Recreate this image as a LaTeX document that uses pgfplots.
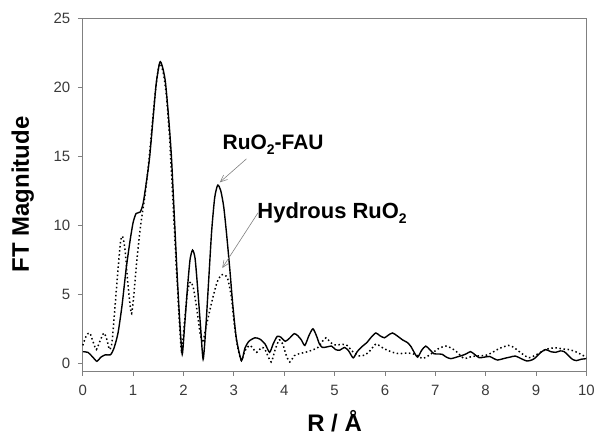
\documentclass[border=0pt]{standalone}
\usepackage{pgfplots}
\pgfplotsset{compat=1.18}
\usepackage{fontspec}
\setmainfont{Liberation Sans}
\usetikzlibrary{arrows.meta}
\definecolor{axgray}{HTML}{808080}
\definecolor{lblgray}{HTML}{3A3A3A}
\newcommand{\sub}[1]{\raisebox{-0.45ex}{\fontsize{14}{14}\selectfont #1}}
\begin{document}
\begin{tikzpicture}
\begin{axis}[
  name=ax,
  width=505pt, height=354pt, scale only axis,
  xmin=0, xmax=10, ymin=-0.55, ymax=25,
  xtick={0,1,...,10}, ytick={0,5,...,25},
  xtick pos=left, ytick pos=left,
  tick align=outside, major tick length=5pt,
  axis line style={axgray, line width=0.8pt},
  every tick/.style={axgray, line width=0.8pt},
  /pgf/number format/assume math mode=true,
  tick label style={font=\fontsize{15}{15}\selectfont, text=lblgray},
  xticklabel style={yshift=-6pt},
  yticklabel style={xshift=-4pt},
  xlabel={R / Å},
  ylabel={FT Magnitude},
  xlabel style={font=\fontsize{24}{24}\selectfont\bfseries, at={(axis description cs:0.5,-0.172)}, anchor=base},
  ylabel style={font=\fontsize{24}{24}\selectfont\bfseries, at={(axis description cs:-0.119,0.5)}, anchor=center},
  clip=false,
]
\addplot[black, line width=1.4pt, smooth, tension=0.4] coordinates {
(0.00,0.84)(0.10,0.80)(0.20,0.45)(0.28,0.15)(0.36,0.45)(0.45,0.62)(0.55,0.62)
(0.62,1.1)(0.70,2.2)(0.78,4.2)(0.86,6.8)(0.94,8.9)(1.00,10.2)(1.06,10.85)(1.14,10.95)
(1.20,11.6)(1.27,13.3)(1.33,15.0)(1.40,17.9)(1.46,20.3)(1.53,21.8)(1.58,21.5)(1.64,20.4)
(1.70,18.0)(1.76,15.0)(1.82,10.5)(1.88,6.0)(1.93,2.8)(1.975,0.65)(2.02,2.6)(2.08,5.5)
(2.13,7.5)(2.18,8.2)(2.23,7.6)(2.28,5.5)(2.34,2.6)(2.39,0.3)(2.44,2.4)(2.50,6.0)
(2.56,9.6)(2.62,12.0)(2.68,12.9)(2.74,12.5)(2.80,11.3)(2.86,9.2)(2.92,6.8)(2.98,4.2)
(3.05,1.8)(3.15,0.2)(3.22,1.1)(3.30,1.6)(3.42,1.85)(3.52,1.75)(3.62,1.4)(3.71,0.8)
(3.78,1.4)(3.86,1.95)(3.93,1.9)(4.02,1.6)(4.10,1.8)(4.20,2.15)(4.27,2.0)(4.34,1.7)
(4.41,1.3)(4.49,2.0)(4.57,2.5)(4.64,2.0)(4.70,1.4)(4.76,1.15)(4.86,1.2)(4.94,1.25)
(5.02,1.0)(5.10,0.95)(5.20,1.15)(5.28,0.9)(5.37,0.4)(5.45,0.85)(5.54,1.2)(5.64,1.5)
(5.73,1.9)(5.82,2.2)(5.90,2.0)(5.99,1.85)(6.07,2.05)(6.15,2.2)(6.24,2.0)(6.35,1.7)
(6.45,1.5)(6.52,1.2)(6.58,0.8)(6.65,0.45)(6.73,0.95)(6.81,1.25)(6.89,1.0)(6.97,0.7)
(7.06,0.68)(7.14,0.65)(7.22,0.45)(7.31,0.34)(7.42,0.45)(7.54,0.58)(7.62,0.7)(7.70,0.85)
(7.78,0.65)(7.87,0.41)(7.97,0.45)(8.08,0.5)(8.16,0.35)(8.24,0.24)(8.36,0.35)(8.48,0.45)
(8.59,0.53)(8.70,0.35)(8.82,0.17)(8.92,0.25)(8.99,0.41)(9.08,0.75)(9.19,1.0)(9.29,0.85)
(9.39,0.8)(9.48,0.9)(9.56,0.85)(9.65,0.55)(9.72,0.3)(9.80,0.2)(9.90,0.3)(10.00,0.34)
};
\addplot[black, line width=1.5pt, dash pattern=on 1.5pt off 2.6pt, smooth, tension=0.4] coordinates {
(0.00,1.3)(0.07,2.0)(0.14,2.2)(0.21,1.5)(0.27,1.0)(0.34,1.6)(0.42,2.2)(0.48,1.7)
(0.53,1.0)(0.58,1.5)(0.64,4.1)(0.70,6.8)(0.75,8.8)(0.79,9.2)(0.84,8.2)(0.89,6.0)
(0.94,4.2)(0.97,3.6)(1.01,4.8)(1.07,7.3)(1.13,9.4)(1.18,10.8)(1.23,12.0)(1.30,14.2)
(1.37,16.9)(1.44,19.6)(1.50,21.3)(1.54,21.7)(1.60,21.0)(1.66,19.4)(1.72,16.5)(1.78,12.5)
(1.84,8.2)(1.90,4.2)(1.96,0.9)(2.02,3.0)(2.08,5.2)(2.14,5.9)(2.20,5.4)(2.27,3.8)
(2.33,2.2)(2.38,1.5)(2.44,2.5)(2.52,3.8)(2.60,5.0)(2.67,5.9)(2.75,6.4)(2.82,6.4)
(2.88,6.1)(2.95,4.8)(3.02,2.5)(3.08,1.1)(3.15,0.2)(3.22,0.9)(3.32,1.3)(3.45,0.8)
(3.55,1.15)(3.62,1.0)(3.74,0.1)(3.82,1.0)(3.90,1.7)(3.97,1.4)(4.04,0.6)(4.11,0.1)
(4.20,0.55)(4.30,0.7)(4.42,0.8)(4.55,0.95)(4.67,1.15)(4.76,1.6)(4.83,1.85)(4.90,1.6)
(4.98,1.35)(5.10,1.35)(5.23,1.35)(5.36,0.85)(5.48,0.55)(5.60,0.6)(5.70,0.9)(5.82,1.4)
(5.92,1.2)(6.02,1.0)(6.15,0.8)(6.28,0.7)(6.42,0.75)(6.55,0.7)(6.65,0.55)(6.74,0.35)
(6.84,0.5)(6.94,0.75)(7.08,1.1)(7.21,1.25)(7.32,1.1)(7.42,0.85)(7.57,0.35)(7.68,0.45)
(7.80,0.53)(7.92,0.55)(8.02,0.6)(8.14,0.8)(8.26,1.06)(8.45,1.3)(8.56,1.15)(8.66,0.87)
(8.78,0.55)(8.86,0.41)(8.94,0.5)(9.02,0.65)(9.14,0.9)(9.25,1.06)(9.39,1.13)(9.52,1.05)
(9.65,1.0)(9.75,0.9)(9.84,0.75)(9.92,0.6)(10.00,0.44)
};
\node[font=\fontsize{21}{21}\selectfont\bfseries, anchor=center] at (axis cs:3.78,15.8) {RuO\sub{2}-FAU};
\node[font=\fontsize{22}{22}\selectfont\bfseries, anchor=center] at (axis cs:4.95,10.9) {Hydrous RuO\sub{2}};
\draw[gray, line width=0.6pt, -{Straight Barb[length=7pt,width=6pt]}] (axis cs:3.25,14.8) -- (axis cs:2.72,13.1);
\draw[gray, line width=0.6pt, -{Straight Barb[length=7pt,width=6pt]}] (axis cs:3.48,10.9) -- (axis cs:2.77,6.9);
\end{axis}
\path ([shift={(-83pt,-72pt)}]ax.south west) rectangle ([shift={(10pt,18pt)}]ax.north east);
\end{tikzpicture}
\end{document}
